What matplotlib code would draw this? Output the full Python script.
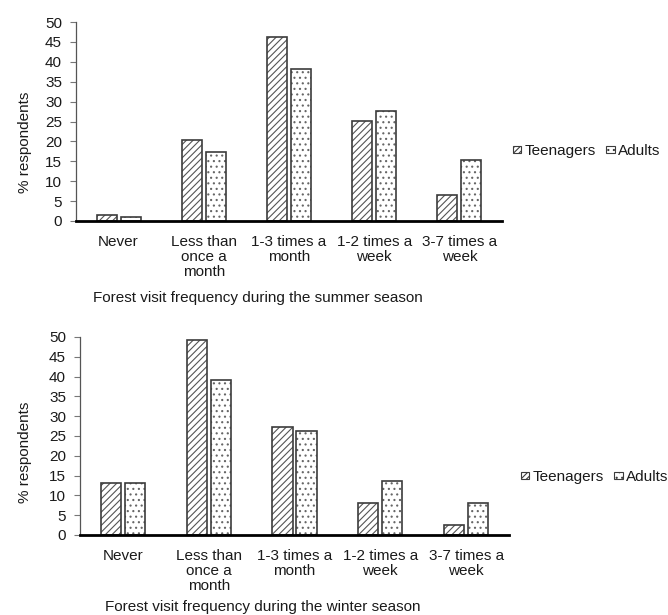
import numpy as np
import matplotlib
matplotlib.use('Agg')
import matplotlib.pyplot as plt
from matplotlib.patches import Patch

plt.rcParams['font.family'] = ['Liberation Sans', 'DejaVu Sans']
plt.rcParams['font.size'] = 11
plt.rcParams['hatch.linewidth'] = 0.8

# data
categories = ['Never', 'Less than\nonce a\nmonth', '1-3 times a\nmonth',
              '1-2 times a\nweek', '3-7 times a\nweek']
series_names = ['Teenagers', 'Adults']
summer_teen = [1.4, 20.4, 46.2, 25.1, 6.5]
summer_adult = [1.1, 17.3, 38.3, 27.7, 15.4]
winter_teen = [13.1, 49.3, 27.2, 8.1, 2.5]
winter_adult = [13.2, 39.1, 26.3, 13.7, 8.0]
y_ticks = [0, 5, 10, 15, 20, 25, 30, 35, 40, 45, 50]
summer_title = 'Forest visit frequency during the summer season'
winter_title = 'Forest visit frequency during the winter season'

edge = '#3c3c3c'
hatch_col = '#555555'
text_col = '#1a1a1a'
bar_w = 0.235
off = 0.14

fig = plt.figure(figsize=(6.68, 6.15), dpi=100)


def draw(rect, teen, adult, xlab, xlab_pos, ylab_pos, leg_pos):
    ax = fig.add_axes(rect)
    x = np.arange(len(categories))
    # hatch layer then outline layer
    ax.bar(x - off, teen, bar_w, color='white', edgecolor=hatch_col,
           hatch='/////', linewidth=0, zorder=2)
    ax.bar(x + off, adult, bar_w, color='white', edgecolor='#666666',
           hatch='...', linewidth=0, zorder=2)
    ax.bar(x - off, teen, bar_w, fill=False, edgecolor=edge, linewidth=1.2, zorder=3)
    ax.bar(x + off, adult, bar_w, fill=False, edgecolor=edge, linewidth=1.2, zorder=3)

    ax.set_xlim(-0.5, len(categories) - 0.5)
    ax.set_ylim(0, 50)
    ax.set_yticks(y_ticks)
    ax.set_xticks(x)
    ax.set_xticklabels(categories, linespacing=1.09, color=text_col)
    ax.tick_params(axis='x', length=0, pad=10)
    ax.tick_params(axis='y', direction='out', length=4, width=0.8,
                   color='#777777', pad=6, labelcolor=text_col)
    for s in ['top', 'right']:
        ax.spines[s].set_visible(False)
    ax.spines['left'].set_color('#555555')
    ax.spines['left'].set_linewidth(0.9)
    ax.spines['bottom'].set_color('black')
    ax.spines['bottom'].set_linewidth(2)
    ax.spines['bottom'].set_zorder(5)

    fig.text(xlab_pos[0], xlab_pos[1], xlab, ha='center', va='center', color=text_col)
    fig.text(ylab_pos[0], ylab_pos[1], '% respondents', rotation=90,
             ha='center', va='center', color=text_col)

    handles = [Patch(facecolor='white', edgecolor=edge, hatch='//////', linewidth=0.8),
               Patch(facecolor='white', edgecolor=edge, hatch='...', linewidth=0.8)]
    fig.legend(handles, series_names, loc='center left', bbox_to_anchor=leg_pos,
               ncol=2, frameon=False, handlelength=0.55, handleheight=0.4,
               handletextpad=0.2, columnspacing=0.7, borderpad=0,
               borderaxespad=0, labelcolor=text_col)
    return ax


draw([76 / 668, 1 - 221 / 615, 426 / 668, 199 / 615], summer_teen, summer_adult,
     summer_title, (258 / 668, 1 - 298 / 615), (25 / 668, 1 - 142 / 615),
     (513 / 668, 1 - 151 / 615))
draw([80 / 668, 1 - 535 / 615, 429 / 668, 198 / 615], winter_teen, winter_adult,
     winter_title, (263 / 668, 1 - 607 / 615), (25 / 668, 1 - 452 / 615),
     (521 / 668, 1 - 477 / 615))

fig.savefig('out.png', dpi=100)
